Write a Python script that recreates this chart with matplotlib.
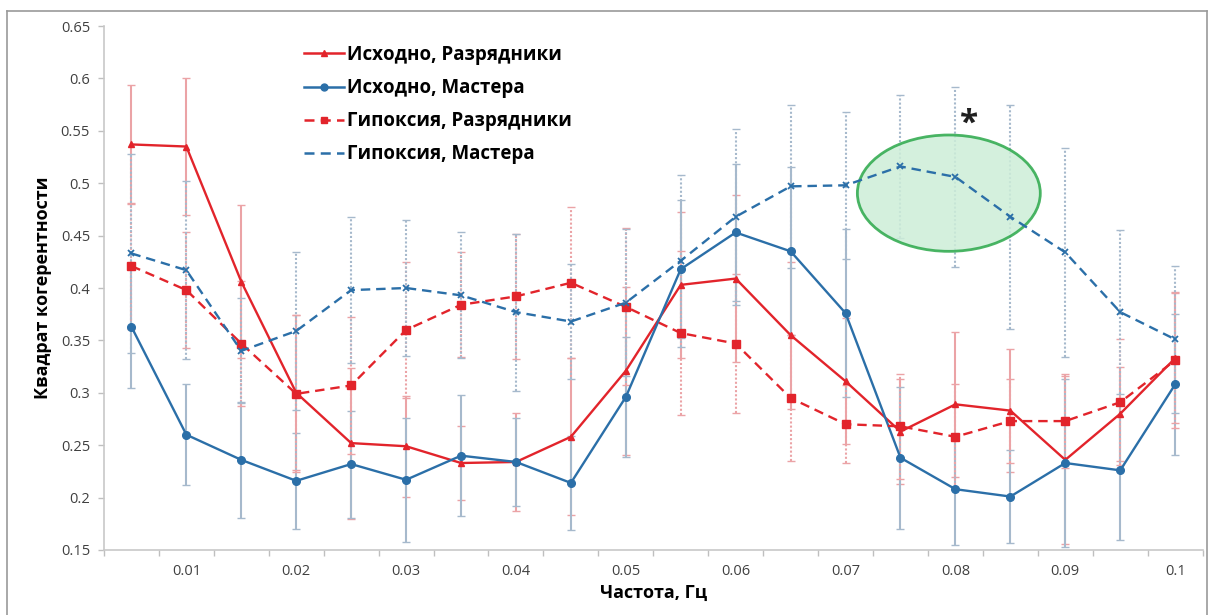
import numpy as np
import matplotlib
matplotlib.use("Agg")
import matplotlib.pyplot as plt
from matplotlib.patches import Ellipse
from matplotlib.lines import Line2D

plt.rcParams['font.family'] = ['Open Sans', 'DejaVu Sans']

# Frequencies (Hz) of the spectral bands
freq = [0.005, 0.010, 0.015, 0.020, 0.025, 0.030, 0.035, 0.040, 0.045, 0.050,
        0.055, 0.060, 0.065, 0.070, 0.075, 0.080, 0.085, 0.090, 0.095, 0.100]

# Baseline, ranked athletes
base_razr = [0.537, 0.535, 0.406, 0.300, 0.252, 0.249, 0.233, 0.234, 0.258, 0.321,
             0.403, 0.409, 0.355, 0.311, 0.263, 0.289, 0.283, 0.236, 0.280, 0.333]
base_razr_err = [0.057, 0.065, 0.073, 0.074, 0.072, 0.048, 0.035, 0.047, 0.075, 0.080,
                 0.070, 0.080, 0.070, 0.060, 0.050, 0.069, 0.059, 0.080, 0.045, 0.062]

# Baseline, masters
base_mast = [0.363, 0.260, 0.236, 0.216, 0.232, 0.217, 0.240, 0.234, 0.214, 0.296,
             0.418, 0.453, 0.435, 0.376, 0.238, 0.208, 0.201, 0.233, 0.226, 0.308]
base_mast_err = [0.058, 0.048, 0.055, 0.046, 0.051, 0.059, 0.058, 0.042, 0.045, 0.057,
                 0.066, 0.065, 0.080, 0.080, 0.068, 0.053, 0.044, 0.080, 0.066, 0.067]

# Hypoxia, ranked athletes
hyp_razr = [0.421, 0.398, 0.347, 0.299, 0.307, 0.360, 0.384, 0.392, 0.405, 0.382,
            0.357, 0.347, 0.295, 0.270, 0.268, 0.258, 0.273, 0.273, 0.291, 0.331]
hyp_razr_err = [0.060, 0.055, 0.060, 0.075, 0.065, 0.065, 0.050, 0.060, 0.072, 0.075,
                0.078, 0.066, 0.060, 0.037, 0.050, 0.050, 0.040, 0.045, 0.060, 0.065]

# Hypoxia, masters
hyp_mast = [0.433, 0.417, 0.340, 0.359, 0.398, 0.400, 0.393, 0.377, 0.368, 0.386,
            0.426, 0.468, 0.497, 0.498, 0.516, 0.506, 0.468, 0.434, 0.377, 0.351]
hyp_mast_err = [0.095, 0.085, 0.050, 0.075, 0.070, 0.065, 0.060, 0.075, 0.055, 0.070,
                0.082, 0.084, 0.078, 0.070, 0.068, 0.086, 0.107, 0.100, 0.078, 0.070]

labels = ["Исходно, Разрядники", "Исходно, Мастера",
          "Гипоксия, Разрядники", "Гипоксия, Мастера"]

RED = "#E2242B"
BLUE = "#2B6FA8"
RED_ERR = "#EBA3A6"
BLUE_ERR = "#A6B9CC"

fig = plt.figure(figsize=(12.16, 6.15), dpi=100)
ax = fig.add_axes([0.0855, 0.1057, 0.9035, 0.852])

x = np.arange(len(freq))


def error_bars(y, err, color, dotted):
    eb = ax.errorbar(x, y, yerr=err, fmt='none', ecolor=color, elinewidth=1.5,
                     capsize=3, capthick=1.0, zorder=1)
    if dotted:
        eb[2][0].set_linestyle((0, (1, 1)))


error_bars(base_razr, base_razr_err, RED_ERR, False)
error_bars(base_mast, base_mast_err, BLUE_ERR, False)
error_bars(hyp_razr, hyp_razr_err, RED_ERR, True)
error_bars(hyp_mast, hyp_mast_err, BLUE_ERR, True)

dash = (0, (4, 2.5))
ax.plot(x, base_razr, color=RED, lw=1.7, marker='^', ms=5, zorder=3)
ax.plot(x, base_mast, color=BLUE, lw=1.7, marker='o', ms=5.5, zorder=3)
ax.plot(x, hyp_razr, color=RED, lw=1.7, ls=dash, marker='s', ms=6, zorder=3)
ax.plot(x, hyp_mast, color=BLUE, lw=1.7, ls=dash, marker='x', ms=5, mew=1.3, zorder=3)

# Highlighted region of significant difference
ell = Ellipse((14.88, 0.4905), width=3.33, height=0.111, facecolor="#CDEED8",
              edgecolor="#2BA84A", lw=2.0, alpha=0.85, zorder=2)
ax.add_patch(ell)
ax.text(15.25, 0.556, "*", fontsize=24, fontweight='bold', ha='center', va='center',
        color='#202020', zorder=4)

# Axes styling
ax.set_xlim(-0.5, len(freq) - 0.5)
ax.set_ylim(0.15, 0.65)
yt = np.round(np.arange(0.15, 0.651, 0.05), 2)
ax.set_yticks(yt)
ax.set_yticklabels([f"{v:g}" for v in yt])
ax.set_xticks(x[1::2])
ax.set_xticklabels([f"{f:g}" for f in freq[1::2]])
ax.set_xticks(np.arange(-0.5, len(freq), 1.0), minor=True)
ax.tick_params(axis='x', which='major', length=0, pad=10, labelsize=10.5, labelcolor='#404040')
ax.tick_params(axis='x', which='minor', length=4, color='#BFBFBF', width=1)
ax.tick_params(axis='y', length=4, color='#BFBFBF', width=1, labelsize=10.5,
               labelcolor='#404040', pad=6)
for s in ['top', 'right']:
    ax.spines[s].set_visible(False)
for s in ['left', 'bottom']:
    ax.spines[s].set_color('#C8C8C8')
    ax.spines[s].set_linewidth(1.2)

ax.set_ylabel("Квадрат когерентности", fontsize=13, fontweight='bold', labelpad=6)
ax.set_xlabel("Частота, Гц", fontsize=13, fontweight='bold', labelpad=4)

handles = [
    Line2D([], [], color=RED, lw=1.8, marker='^', ms=5),
    Line2D([], [], color=BLUE, lw=1.8, marker='o', ms=5),
    Line2D([], [], color=RED, lw=1.8, ls=dash, marker='s', ms=5),
    Line2D([], [], color=BLUE, lw=1.8, ls=dash),
]
leg = ax.legend(handles, labels, loc='upper left', bbox_to_anchor=(0.167, 0.996),
                frameon=False, handlelength=2.1, handletextpad=0.2, labelspacing=0.7,
                prop={'weight': 'bold', 'size': 13.5})

# Outer frame
for xs, ys in [((0.006, 0.993), (0.982, 0.982)), ((0.006, 0.006), (0.0, 0.982)),
               ((0.993, 0.993), (0.0, 0.982))]:
    fig.add_artist(Line2D(xs, ys, color='#9A9A9A', lw=1.2, transform=fig.transFigure))

fig.savefig("out.png", dpi=100, facecolor='white')
